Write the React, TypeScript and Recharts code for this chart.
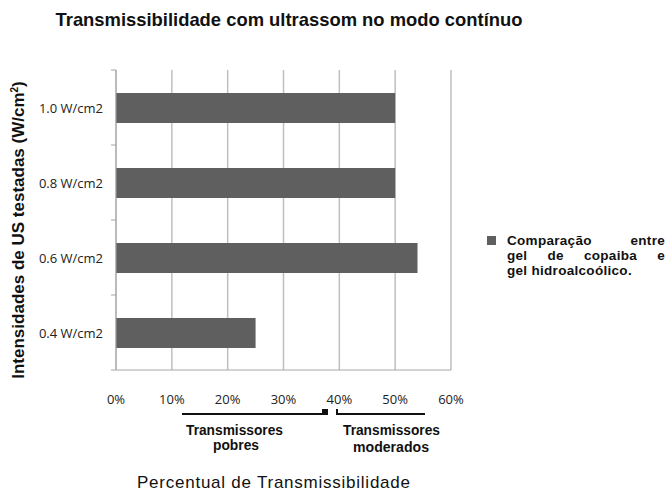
import { BarChart, Bar, XAxis, YAxis, CartesianGrid } from 'recharts'

const categories = ['1.0 W/cm2', '0.8 W/cm2', '0.6 W/cm2', '0.4 W/cm2']
const values = [50, 50, 54, 25]
const xTicks = [0, 10, 20, 30, 40, 50, 60]
const seriesName = 'Comparação entre gel de copaiba e gel hidroalcoólico.'
const legendLines = ['Comparação entre', 'gel de copaiba e', 'gel hidroalcoólico.']

const data = categories.map((c, i) => ({ name: c, value: values[i] }))

const W = 671
const H = 492
const M = { top: 70, right: 220, bottom: 0, left: 0 }
const Y_AXIS_W = 116
const X_AXIS_H = 122
const halfBand = (H - M.top - X_AXIS_H) / categories.length / 2

const YTick = (props: any) => {
  const { x, y, payload, index } = props
  const ax = x + 8
  return (
    <g>
      <line x1={ax - 5} x2={ax} y1={y - halfBand} y2={y - halfBand} stroke="#a6a6a6" />
      {index === categories.length - 1 && (
        <line x1={ax - 5} x2={ax} y1={y + halfBand} y2={y + halfBand} stroke="#a6a6a6" />
      )}
      <text x={x - 5} y={y} dy={5} textAnchor="end" fontSize={13} fill="#222" fontFamily="Open Sans, sans-serif">
        {payload.value}
      </text>
    </g>
  )
}

const YLabel = (props: any) => {
  const { viewBox } = props
  const cy = viewBox.y + viewBox.height / 2 + 10
  return (
    <text x={24} y={cy} transform={`rotate(-90, 24, ${cy})`} textAnchor="middle" fontSize={17} fontWeight="bold" fill="#111" fontFamily="Liberation Sans, Arial, sans-serif">
      Intensidades de US testadas (W/cm<tspan dy={-6} fontSize={10}>2</tspan><tspan dy={6}>)</tspan>
    </text>
  )
}

const narrow = { fontFamily: 'Liberation Sans, Arial, sans-serif', fontWeight: 'bold' as const, fontSize: 14, fill: '#111', lengthAdjust: 'spacingAndGlyphs' as const }

export default function App() {
  return (
    <div style={{ position: 'fixed', left: 0, top: 0, width: W, height: H, background: '#fff', overflow: 'hidden' }}>
      <div style={{ position: 'absolute', left: 0, top: 9, width: 578, textAlign: 'center', fontFamily: 'Liberation Sans, Arial, sans-serif', fontWeight: 'bold', fontSize: 18.4, color: '#111' }}>
        Transmissibilidade com ultrassom no modo contínuo
      </div>
      <BarChart width={W} height={H} data={data} layout="vertical" margin={M} barSize={30}>
        <CartesianGrid horizontal={false} stroke="#bfbfbf" strokeWidth={1.5} />
        <XAxis
          type="number"
          domain={[0, 60]}
          ticks={xTicks}
          tickFormatter={(v: number) => `${v}%`}
          height={X_AXIS_H}
          axisLine={{ stroke: '#a6a6a6' }}
          tickLine={false}
          tick={{ fontSize: 13, fill: '#222', fontFamily: 'Open Sans, sans-serif', dy: 17 }}
          interval={0}
        />
        <YAxis
          type="category"
          dataKey="name"
          width={Y_AXIS_W}
          axisLine={{ stroke: '#a6a6a6' }}
          tickLine={false}
          tick={<YTick />}
          label={<YLabel />}
        />
        <Bar dataKey="value" name={seriesName} fill="#5f5f5f" isAnimationActive={false} />
      </BarChart>
      <div style={{ position: 'absolute', left: 487, top: 233, display: 'flex', fontFamily: 'Liberation Sans, Arial, sans-serif', fontWeight: 'bold', fontSize: 13.5, color: '#111', lineHeight: '15px', letterSpacing: 0.3 }}>
        <div style={{ width: 9, height: 9, background: '#5f5f5f', marginTop: 3, marginRight: 11, flexShrink: 0 }} />
        <div style={{ width: 158 }}>
          {legendLines.map((l, i) => (
            <div key={i} style={{ textAlign: 'justify', textAlignLast: i < legendLines.length - 1 ? 'justify' : 'left', whiteSpace: 'nowrap' }}>{l}</div>
          ))}
        </div>
      </div>
      <svg style={{ position: 'absolute', left: 0, top: 0 }} width={W} height={H}>
        <line x1={182} x2={325} y1={414} y2={414} stroke="#111" strokeWidth={2} />
        <rect x={322} y={409} width={6} height={6} fill="#111" />
        <polyline points="337,409 337,414 425,414" fill="none" stroke="#111" strokeWidth={2} />
        <text x={186} y={435} textLength={97} {...narrow}>Transmissores</text>
        <text x={213} y={450} textLength={46} {...narrow}>pobres</text>
        <text x={343} y={435} textLength={97} {...narrow}>Transmissores</text>
        <text x={353} y={452} textLength={76} {...narrow}>moderados</text>
        <text x={137} y={488} textLength={273} lengthAdjust="spacing" fontSize={17} fill="#111" fontFamily="Liberation Sans, Arial, sans-serif">Percentual de Transmissibilidade</text>
      </svg>
    </div>
  )
}
